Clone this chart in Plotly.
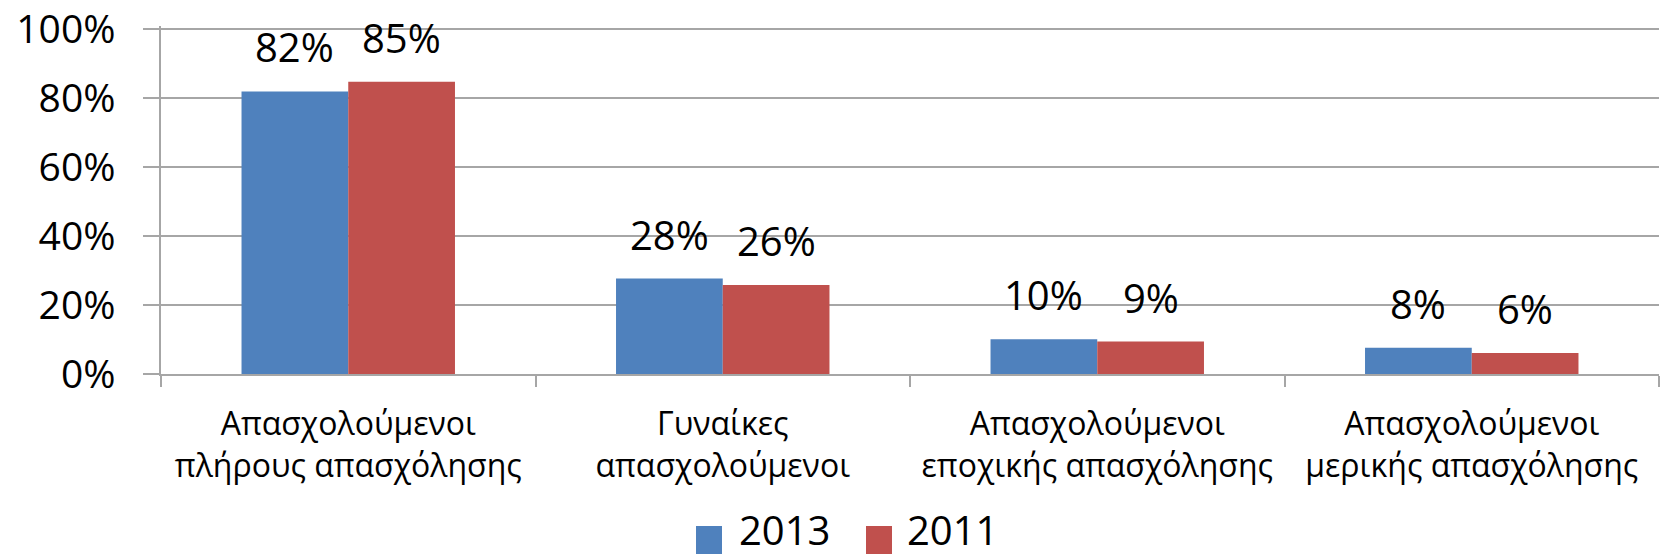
import plotly.graph_objects as go

# ---- data ----
categories = [
    "Απασχολούμενοι<br>πλήρους απασχόλησης",
    "Γυναίκες<br>απασχολούμενοι",
    "Απασχολούμενοι<br>εποχικής απασχόλησης",
    "Απασχολούμενοι<br>μερικής απασχόλησης",
]
series_names = ["2013", "2011"]
values_2013 = [0.82, 0.277, 0.101, 0.076]
values_2011 = [0.848, 0.258, 0.094, 0.061]
series_values = [values_2013, values_2011]
series_colors = ["#4F81BD", "#C0504D"]
y_ticks = [0, 0.2, 0.4, 0.6, 0.8, 1.0]
y_tick_labels = ["0%", "20%", "40%", "60%", "80%", "100%"]

# ---- layout constants ----
W, H = 1661, 557
Y_TOP = 1.01
ML, MR, MT, MB = 161, 2, 26, 183
PW = W - ML - MR
PH = H - MT - MB
BARGAP = 0.43
FONT = "Open Sans, Liberation Sans, DejaVu Sans, sans-serif"
GRID = "#A6A6A6"

def px_x(px):
    return (px - ML) / PW

def px_y(py):
    return (H - MB - py) / PH

fig = go.Figure()
for name, vals, col in zip(series_names, series_values, series_colors):
    fig.add_trace(go.Bar(
        x=categories, y=vals, name=name,
        marker=dict(color=col, line=dict(width=0)),
        showlegend=False,
    ))

# data labels as annotations above the bars
bar_w = PW / len(categories) * (1 - BARGAP) / len(series_names)
annotations = []
for j, vals in enumerate(series_values):
    shift = (j - (len(series_names) - 1) / 2) * bar_w
    for c, v in zip(categories, vals):
        annotations.append(dict(
            x=c, y=v, xref="x", yref="y", text=f"{v:.0%}",
            showarrow=False, xanchor="center", yanchor="bottom",
            xshift=shift, yshift=15,
            font=dict(family=FONT, size=40, color="#000000"),
        ))

# manual legend (large squares like the original)
shapes = []
leg_items = [(696, 737), (866, 905)]
for (sq_x, tx_x), name, col in zip(leg_items, series_names, series_colors):
    shapes.append(dict(
        type="rect", xref="paper", yref="paper",
        x0=px_x(sq_x), x1=px_x(sq_x + 26), y0=px_y(554), y1=px_y(526),
        fillcolor=col, line=dict(width=0),
    ))
    annotations.append(dict(
        x=px_x(tx_x), y=px_y(529), xref="paper", yref="paper",
        text=name, showarrow=False, xanchor="left", yanchor="middle",
        font=dict(family=FONT, size=40, color="#000000"),
    ))

fig.update_layout(
    width=W, height=H,
    margin=dict(l=ML, r=MR, t=MT, b=MB, pad=0),
    paper_bgcolor="white", plot_bgcolor="white",
    barmode="group", bargap=BARGAP, bargroupgap=0,
    annotations=annotations, shapes=shapes,
    showlegend=False,
    font=dict(family=FONT, color="#000000"),
)
fig.update_yaxes(
    range=[0, Y_TOP], tickvals=y_ticks, ticktext=y_tick_labels,
    showgrid=True, gridcolor=GRID, gridwidth=1.5,
    showline=True, linecolor=GRID, linewidth=1.5,
    ticks="outside", ticklen=16, tickcolor=GRID, tickwidth=1.5,
    tickfont=dict(family=FONT, size=39, color="#000000"),
    ticklabelstandoff=20, zeroline=False, automargin=False,
    ticklabeloverflow="allow",
)
fig.update_xaxes(
    showline=True, linecolor=GRID, linewidth=1.5,
    ticks="outside", tickson="boundaries", ticklen=11, tickcolor=GRID, tickwidth=1.5,
    tickfont=dict(family=FONT, size=32, color="#000000"),
    ticklabelstandoff=21, automargin=False,
)

fig.write_html(
    "out.html",
    config={"displayModeBar": False},
    post_script="document.body.style.margin='0';document.body.style.padding='0';",
)
